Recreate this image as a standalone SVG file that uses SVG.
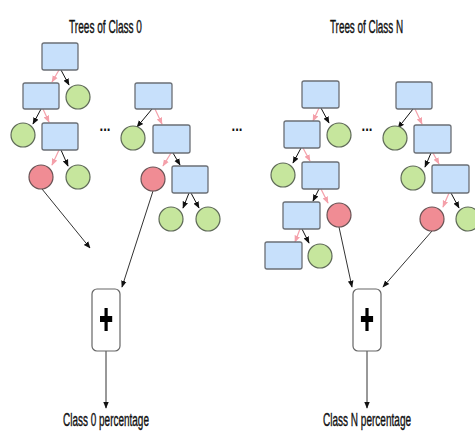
<svg xmlns="http://www.w3.org/2000/svg" width="475" height="434" viewBox="0 0 475 434">
<style>
.r{fill:#c7e0fb;stroke:#6b6f75;stroke-width:1.3}
.g{fill:#c6e69d;stroke:#5f6a58;stroke-width:1.2}
.d{fill:#f08c94;stroke:#6a5456;stroke-width:1.2}
.p{fill:#fff;stroke:#666;stroke-width:1.2}
.eb{stroke:#111;stroke-width:1;fill:none;marker-end:url(#ab)}
.ep{stroke:#f4a0aa;stroke-width:1.2;fill:none;marker-end:url(#ap)}
.el{stroke:#333;stroke-width:1;fill:none;marker-end:url(#ab)}
.t{font-family:"Liberation Sans",Arial,sans-serif;font-size:19px;fill:#111;stroke:#111;stroke-width:0.4;text-anchor:middle}
.dots{font-family:"Liberation Sans",Arial,sans-serif;font-size:16px;font-weight:bold;fill:#111;text-anchor:middle}
</style>
<defs>
<marker id="ab" viewBox="0 0 10 10" refX="9" refY="5" markerWidth="7" markerHeight="7" markerUnits="userSpaceOnUse" orient="auto"><path d="M0,1L10,5L0,9z" fill="#111"/></marker>
<marker id="ap" viewBox="0 0 10 10" refX="9" refY="5" markerWidth="7" markerHeight="7" markerUnits="userSpaceOnUse" orient="auto"><path d="M0,1L10,5L0,9z" fill="#f4a0aa"/></marker>
</defs>

<g id="labels">
<text class="t" transform="translate(105.5,33) scale(0.53,1)" x="0" y="0">Trees of Class 0</text>
<text class="t" transform="translate(366.5,33) scale(0.52,1)" x="0" y="0">Trees of Class N</text>
<text class="t" transform="translate(106,426) scale(0.525,1)" x="0" y="0">Class 0 percentage</text>
<text class="t" transform="translate(367,426) scale(0.528,1)" x="0" y="0">Class N percentage</text>
<text class="dots" x="105" y="131" textLength="11" lengthAdjust="spacingAndGlyphs">...</text>
<text class="dots" x="237" y="131" textLength="11" lengthAdjust="spacingAndGlyphs">...</text>
<text class="dots" x="367" y="131" textLength="11" lengthAdjust="spacingAndGlyphs">...</text>
</g>

<g id="connectors">
<!-- tree 1 -->
<line class="ep" x1="59" y1="70" x2="52" y2="82"/>
<line class="eb" x1="61" y1="70" x2="69" y2="85"/>
<line class="eb" x1="41" y1="109" x2="33" y2="124"/>
<line class="ep" x1="43" y1="109" x2="49" y2="122"/>
<line class="ep" x1="59" y1="150" x2="52" y2="165"/>
<line class="eb" x1="61" y1="150" x2="68" y2="166"/>
<line class="el" x1="42" y1="189" x2="90" y2="248"/>
<!-- tree 2 -->
<line class="eb" x1="152" y1="109" x2="137" y2="127"/>
<line class="ep" x1="155" y1="109" x2="162" y2="124"/>
<line class="ep" x1="171" y1="153" x2="163" y2="166"/>
<line class="eb" x1="173" y1="153" x2="180" y2="165"/>
<line class="eb" x1="189" y1="193" x2="183" y2="208"/>
<line class="eb" x1="191" y1="193" x2="199" y2="208"/>
<line class="el" x1="153" y1="191" x2="122" y2="287"/>
<!-- tree 3 -->
<line class="ep" x1="319" y1="108" x2="313" y2="121"/>
<line class="eb" x1="321" y1="108" x2="329" y2="123"/>
<line class="eb" x1="301" y1="148" x2="293" y2="163"/>
<line class="ep" x1="303" y1="148" x2="310" y2="161"/>
<line class="eb" x1="319" y1="189" x2="313" y2="201"/>
<line class="ep" x1="321" y1="189" x2="328" y2="203"/>
<line class="ep" x1="300" y1="229" x2="295" y2="242"/>
<line class="eb" x1="302" y1="229" x2="309" y2="243"/>
<line class="el" x1="339" y1="227" x2="352" y2="287"/>
<!-- tree 4 -->
<line class="eb" x1="413" y1="109" x2="398" y2="128"/>
<line class="ep" x1="415" y1="109" x2="422" y2="124"/>
<line class="eb" x1="431" y1="153" x2="425" y2="167"/>
<line class="ep" x1="433" y1="153" x2="439" y2="164"/>
<line class="ep" x1="449" y1="193" x2="443" y2="207"/>
<line class="eb" x1="451" y1="193" x2="459" y2="208"/>
<line class="el" x1="432" y1="231" x2="383" y2="287"/>
<!-- outputs -->
<line class="el" x1="106" y1="351" x2="106" y2="408"/>
<line class="el" x1="367" y1="351" x2="367" y2="408"/>
</g>

<g id="tree0a">
<rect class="r" x="42" y="43" width="36" height="27" rx="2"/>
<rect class="r" x="23" y="83" width="36" height="26" rx="2"/>
<circle class="g" cx="78" cy="97" r="12"/>
<circle class="g" cx="23" cy="135" r="12"/>
<rect class="r" x="42" y="123" width="36" height="27" rx="2"/>
<circle class="d" cx="41" cy="177" r="12"/>
<circle class="g" cx="78" cy="177" r="12"/>
</g>

<g id="tree0b">
<rect class="r" x="135" y="83" width="37" height="26" rx="2"/>
<circle class="g" cx="133" cy="138" r="12"/>
<rect class="r" x="153" y="125" width="37" height="28" rx="2"/>
<circle class="d" cx="153" cy="179" r="12"/>
<rect class="r" x="172" y="166" width="36" height="27" rx="2"/>
<circle class="g" cx="171" cy="219" r="12"/>
<circle class="g" cx="208" cy="219" r="12"/>
</g>

<g id="treeNa">
<rect class="r" x="302" y="81" width="37" height="27" rx="2"/>
<rect class="r" x="284" y="121" width="36" height="27" rx="2"/>
<circle class="g" cx="339" cy="135" r="12"/>
<circle class="g" cx="283" cy="175" r="12"/>
<rect class="r" x="302" y="162" width="37" height="27" rx="2"/>
<rect class="r" x="283" y="202" width="37" height="27" rx="2"/>
<circle class="d" cx="339" cy="215" r="12"/>
<rect class="r" x="265" y="242" width="37" height="27" rx="2"/>
<circle class="g" cx="320" cy="256" r="12"/>
</g>

<g id="treeNb">
<rect class="r" x="396" y="82" width="36" height="27" rx="2"/>
<circle class="g" cx="395" cy="138" r="12"/>
<rect class="r" x="414" y="125" width="37" height="28" rx="2"/>
<circle class="g" cx="413" cy="178" r="12"/>
<rect class="r" x="432" y="165" width="37" height="28" rx="2"/>
<circle class="d" cx="432" cy="219" r="12"/>
<circle class="g" cx="468" cy="219" r="12"/>
</g>

<g id="sum0">
<rect class="p" x="92" y="289" width="28" height="62" rx="5"/>
<path d="M104.5,308h3.2v8h4.5v6h-4.5v9h-3.2v-9h-4.5v-6h4.5z" fill="#000"/>
</g>

<g id="sumN">
<rect class="p" x="353" y="289" width="28" height="62" rx="5"/>
<path d="M365.4,308h3.2v8h4.5v6h-4.5v9h-3.2v-9h-4.5v-6h4.5z" fill="#000"/>
</g>
</svg>
